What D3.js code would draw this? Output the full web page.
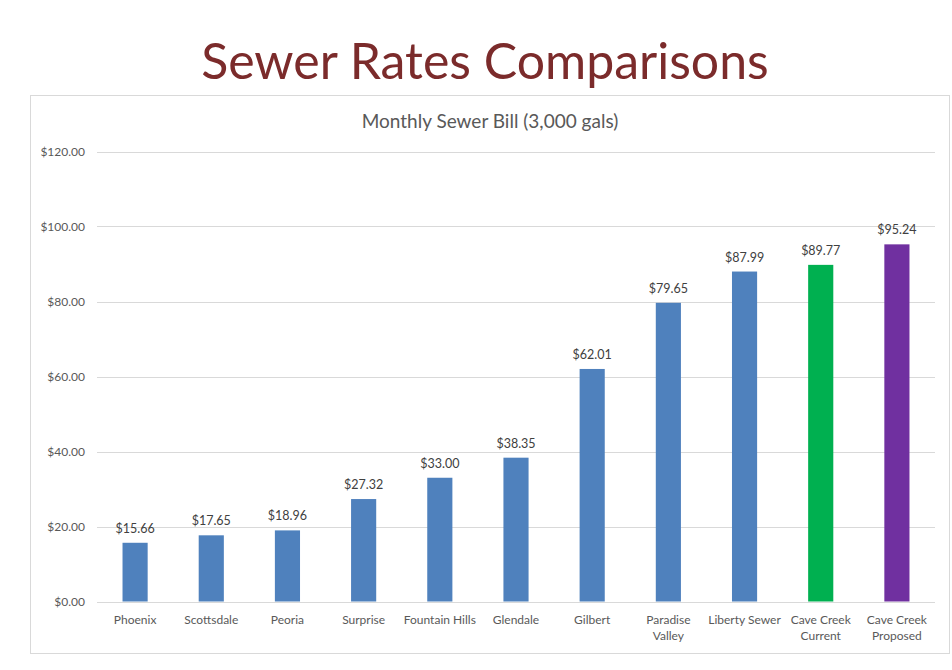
<!DOCTYPE html>
<html>
<head>
<meta charset="utf-8">
<script src="https://cdn.jsdelivr.net/npm/d3@7"></script>
<style>
  body { margin: 0; background: #fff; }
  svg { display: block; font-family: Lato, "Open Sans", sans-serif; }
</style>
</head>
<body>
<svg width="952" height="670"></svg>
<script>
const cities = ["Phoenix", "Scottsdale", "Peoria", "Surprise", "Fountain Hills", "Glendale",
  "Gilbert", "Paradise Valley", "Liberty Sewer", "Cave Creek Current", "Cave Creek Proposed"];
const bills = [15.66, 17.65, 18.96, 27.32, 33.00, 38.35, 62.01, 79.65, 87.99, 89.77, 95.24];
const yTicks = [0, 20, 40, 60, 80, 100, 120];
// labels that wrap onto two lines
const labelLines = [["Phoenix"], ["Scottsdale"], ["Peoria"], ["Surprise"], ["Fountain Hills"], ["Glendale"],
  ["Gilbert"], ["Paradise", "Valley"], ["Liberty Sewer"], ["Cave Creek", "Current"], ["Cave Creek", "Proposed"]];
const barColors = ["#4f81bd", "#4f81bd", "#4f81bd", "#4f81bd", "#4f81bd", "#4f81bd",
  "#4f81bd", "#4f81bd", "#4f81bd", "#00b050", "#7030a0"];

const svg = d3.select("svg");

svg.append("text")
  .attr("x", 485)
  .attr("y", 79)
  .attr("text-anchor", "middle")
  .style("font-size", "50px")
  .style("fill", "#7b2b2b")
  .text("Sewer Rates Comparisons");

// chart frame
svg.append("rect")
  .attr("x", 30.5)
  .attr("y", 95.5)
  .attr("width", 919)
  .attr("height", 558)
  .attr("fill", "#fff")
  .attr("stroke", "#d9d9d9");

svg.append("text")
  .attr("x", 490)
  .attr("y", 128)
  .attr("text-anchor", "middle")
  .style("font-size", "19px")
  .style("fill", "#595959")
  .text("Monthly Sewer Bill (3,000 gals)");

const x = d3.scaleBand().domain(cities).range([97, 935]).paddingInner(0.67).paddingOuter(0.335);
const y = d3.scaleLinear().domain([0, 120]).range([601.5, 151.5]);

const grid = svg.append("g");
grid.selectAll("line")
  .data(yTicks)
  .join("line")
  .attr("x1", 97)
  .attr("x2", 935)
  .attr("y1", (d) => Math.round(y(d)) + 0.5)
  .attr("y2", (d) => Math.round(y(d)) + 0.5)
  .attr("stroke", "#d9d9d9")
  .attr("stroke-width", 1);

const yAxis = svg.append("g")
  .attr("transform", "translate(85,0)")
  .call(d3.axisLeft(y).tickValues(yTicks).tickSize(0).tickFormat((d) => "$" + d3.format(".2f")(d)));
yAxis.select(".domain").remove();
yAxis.selectAll("text")
  .attr("x", 0)
  .style("font-family", "Lato, sans-serif")
  .style("font-size", "12px")
  .style("fill", "#595959");

svg.append("g")
  .selectAll("rect")
  .data(bills)
  .join("rect")
  .attr("x", (d, i) => x(cities[i]))
  .attr("y", (d) => y(d))
  .attr("width", x.bandwidth())
  .attr("height", (d) => y(0) - y(d))
  .attr("fill", (d, i) => barColors[i]);

svg.append("g")
  .selectAll("text")
  .data(bills)
  .join("text")
  .attr("x", (d, i) => x(cities[i]) + x.bandwidth() / 2)
  .attr("y", (d) => y(d) - 10)
  .attr("text-anchor", "middle")
  .style("font-size", "12.5px")
  .style("fill", "#404040")
  .text((d) => "$" + d3.format(".2f")(d));

const xLabels = svg.append("g")
  .selectAll("text")
  .data(cities)
  .join("text")
  .attr("x", (d) => x(d) + x.bandwidth() / 2)
  .attr("y", 624)
  .attr("text-anchor", "middle")
  .style("font-size", "12px")
  .style("fill", "#595959");
xLabels.selectAll("tspan")
  .data((d, i) => labelLines[i])
  .join("tspan")
  .attr("x", function () { return d3.select(this.parentNode).attr("x"); })
  .attr("dy", (d, i) => (i === 0 ? 0 : 16))
  .text((d) => d);
</script>
</body>
</html>
